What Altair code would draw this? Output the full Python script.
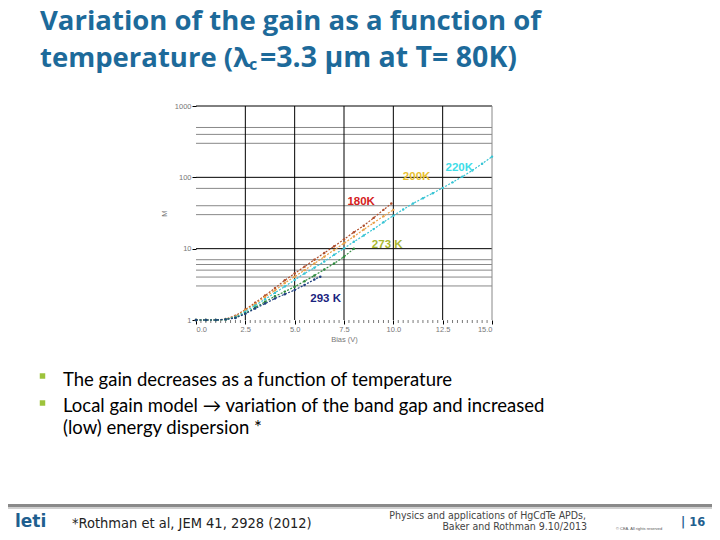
import altair as alt
import pandas as pd

# ---------------- data ----------------
bias_180 = [0, 0.5, 1, 1.5, 2, 2.5, 3, 3.5, 4, 4.5, 5, 5.5, 6, 6.5, 7, 7.5, 8, 8.5, 9, 9.5, 9.9]
gain_180 = [1.0, 1.0, 1.0, 1.03, 1.15, 1.4, 1.75, 2.2, 2.8, 3.6, 4.5, 5.6, 7.0, 8.7, 10.8, 13.5, 17, 21, 27, 35, 43]

bias_200 = [0, 0.5, 1, 1.5, 2, 2.5, 3, 3.5, 4, 4.5, 5, 5.5, 6, 6.5, 7, 7.5, 8, 8.5, 9, 9.5, 10]
gain_200 = [1.0, 1.0, 1.0, 1.02, 1.12, 1.38, 1.68, 2.1, 2.6, 3.3, 4.05, 5.0, 6.2, 7.7, 9.6, 11.9, 14.8, 18.5, 23, 28.5, 35]

bias_220 = [0, 0.5, 1, 1.5, 2, 2.5, 3, 3.5, 4, 4.5, 5, 5.5, 6, 6.5, 7, 7.5, 8, 8.5, 9, 9.5, 10,
            10.5, 11, 11.5, 12, 12.5, 13, 13.5, 14, 14.5, 15]
gain_220 = [1.0, 1.0, 1.0, 1.02, 1.1, 1.31, 1.6, 1.95, 2.4, 2.95, 3.64, 4.5, 5.4, 6.6, 8.2, 10.1, 12.5,
            15.3, 18.8, 23.5, 29, 35.5, 43, 51, 60, 71, 85, 102, 125, 155, 195]

bias_273 = [0, 0.5, 1, 1.5, 2, 2.5, 3, 3.5, 4, 4.5, 5, 5.5, 6, 6.5, 7, 7.5, 8]
gain_273 = [1.0, 1.0, 1.0, 1.02, 1.08, 1.24, 1.5, 1.8, 2.15, 2.5, 2.93, 3.5, 4.2, 5.1, 6.2, 7.7, 10]

bias_293 = [0, 0.5, 1, 1.5, 2, 2.5, 3, 3.5, 4, 4.5, 5, 5.5, 6, 6.3]
gain_293 = [1.0, 1.0, 1.0, 1.02, 1.07, 1.22, 1.45, 1.7, 2.0, 2.3, 2.63, 3.1, 3.7, 4.05]

series_names = ["180K", "200K", "220K", "273K", "293K"]
series_colors = ["#b0502e", "#e8a048", "#38c4d4", "#2e8b3e", "#1f3f80"]

label_text = ["180K", "200K", "220K", "273 K", "293 K"]
label_x = [8.37, 11.18, 13.34, 9.69, 6.57]
label_y = [45.5, 99.5, 133, 11.1, 1.99]
label_color = ["#d42020", "#e8c030", "#40dde8", "#a8b830", "#1a237e"]

x_ticks = [0, 2.5, 5, 7.5, 10, 12.5, 15]
x_grid_major = [2.5, 5, 7.5, 10, 12.5]
x_minor = [v / 4 for v in range(1, 60) if v % 10 != 0]
y_ticks = [1, 10, 100, 1000]
y_grid_major = [10, 100, 1000]
y_grid_minor = [3, 4, 5, 6, 7, 30, 40, 70, 300, 400, 500]

# ---------------- build tables ----------------
rows = []
for name, bx, gy in zip(series_names,
                        [bias_180, bias_200, bias_220, bias_273, bias_293],
                        [gain_180, gain_200, gain_220, gain_273, gain_293]):
    for b, g in zip(bx, gy):
        rows.append({"bias": b, "M": g, "T": name})
df = pd.DataFrame(rows)
labels = pd.DataFrame({"bias": label_x, "M": label_y, "txt": label_text, "col": label_color})

W, H = 296, 214
OX, OY = 196, 106  # page position of the plot origin
TOTAL_W, TOTAL_H = 704, 524

xscale = alt.Scale(domain=[0, 15], nice=False, zero=False)
yscale = alt.Scale(type="log", domain=[1, 1000], nice=False)

def X(field="bias"):
    return alt.X(f"{field}:Q", scale=xscale,
                 axis=alt.Axis(values=x_ticks, format=".1f", title="Bias (V)", grid=False,
                               domain=False, tickColor="#000", tickSize=4,
                               labelFontSize=7.5, labelColor="#777", labelPadding=1,
                               titleFontSize=7.5, titleColor="#777", titleFontWeight="normal",
                               titlePadding=3, labelFont="Liberation Sans", titleFont="Liberation Sans"))

def Y(field="M"):
    return alt.Y(f"{field}:Q", scale=yscale,
                 axis=alt.Axis(values=y_ticks, format="d", title="M", grid=False,
                               domain=False, tickColor="#000", tickSize=4,
                               labelFontSize=7.5, labelColor="#777", labelPadding=1,
                               titleFontSize=7.5, titleColor="#777", titleFontWeight="normal",
                               titlePadding=6, labelFont="Liberation Sans", titleFont="Liberation Sans"))

vmajor = alt.Chart(pd.DataFrame({"bias": x_grid_major})).mark_rule(color="#000", strokeWidth=1).encode(x=X())
vright = alt.Chart(pd.DataFrame({"bias": [15]})).mark_rule(color="#888", strokeWidth=1).encode(x=X())
hminor = alt.Chart(pd.DataFrame({"M": y_grid_minor})).mark_rule(color="#888", strokeWidth=1).encode(y=Y())
hmajor = alt.Chart(pd.DataFrame({"M": y_grid_major})).mark_rule(color="#000", strokeWidth=1).encode(y=Y())
xminor = alt.Chart(pd.DataFrame({"bias": x_minor})).mark_rule(color="#555", strokeWidth=0.8).encode(
    x=X(), y=alt.value(H), y2=alt.value(H + 3))

lines = alt.Chart(df).mark_line(
    strokeDash=[2, 1.5], strokeWidth=1.2,
    point=alt.OverlayMarkDef(filled=True, size=6)
).encode(
    x=X(), y=Y(),
    color=alt.Color("T:N", scale=alt.Scale(domain=series_names, range=series_colors), legend=None),
    order=alt.Order("bias:Q"),
)

lab = alt.Chart(labels).mark_text(fontSize=11.5, fontWeight="bold", font="Liberation Sans",
                                  align="center", baseline="middle").encode(
    x=X(), y=Y(), text="txt:N", color=alt.Color("col:N", scale=None))

one = pd.DataFrame({"a": [0]})

def txt(s, px, py, size, color="#000", weight="normal", font="Open Sans", align="left"):
    kw = dict(text=s, fontSize=size, color=color, fontWeight=weight, font=font,
              align=align, baseline="alphabetic")
    return alt.Chart(one).mark_text(**kw).encode(x=alt.value(px - OX), y=alt.value(py - OY))

def square(px, py):
    return alt.Chart(one).mark_square(color="#9dc33b", size=30, opacity=1).encode(
        x=alt.value(px - OX), y=alt.value(py - OY))

TITLE_C = "#1d6a9a"
BODY_FONT = "Lato"
FOOT_FONT = "DejaVu Sans Condensed, Lato"
slide = [
    txt("Variation of the gain as a function of", 40, 29.5, 27.5, TITLE_C, "bold"),
    txt("temperature (λ", 40, 66.5, 27.5, TITLE_C, "bold"),
    txt("c", 249, 70, 16, TITLE_C, "bold"),
    txt("=3.3 µm at T= 80K)", 260, 66.5, 28.5, TITLE_C, "bold"),
    txt("The gain decreases as a function of temperature", 63, 386, 18.5, font=BODY_FONT),
    txt("Local gain model \u2192 variation of the band gap and increased", 63, 411.5, 18.5, font=BODY_FONT),
    txt("(low) energy dispersion *", 63, 434, 18.5, font=BODY_FONT),
    txt("leti", 15, 527, 17, "#1f5f8f", "bold", font="DejaVu Sans"),
    txt("*Rothman et al, JEM 41, 2928 (2012)", 72, 527.5, 14.5, "#222", font=FOOT_FONT),
    txt("Physics and applications of HgCdTe APDs,", 586, 518.5, 10.5, "#444", font=FOOT_FONT, align="right"),
    txt("Baker and Rothman  9.10/2013", 587, 529.5, 10.5, "#444", font=FOOT_FONT, align="right"),
    txt("| 16", 681, 525.5, 11.5, "#1f5f8f", "bold", font="DejaVu Sans"),
    txt("© CEA. All rights reserved", 616, 530, 4, "#555", font="Liberation Sans"),
    square(42.5, 376),
    square(42.5, 403),
]

footer_line = alt.Chart(one).mark_rule(color="#8a8a8a", strokeWidth=3).encode(
    x=alt.value(0 - OX), x2=alt.value(720 - OX), y=alt.value(505.5 - OY))
footer_shadow = alt.Chart(one).mark_rule(color="#d0d0d0", strokeWidth=2).encode(
    x=alt.value(0 - OX), x2=alt.value(720 - OX), y=alt.value(508 - OY))

chart = alt.layer(
    hminor, hmajor, vmajor, vright, xminor, lines, lab,
    *slide, footer_shadow, footer_line,
).properties(
    width=W, height=H,
    autosize=alt.AutoSizeParams(type="none"),
    padding={"left": OX - 8, "top": OY - 8,
             "right": TOTAL_W - (OX - 8) - W, "bottom": TOTAL_H - (OY - 8) - H},
    background="white",
).configure_view(stroke=None)

chart.save("out.html", embed_options={"renderer": "svg", "actions": False})
